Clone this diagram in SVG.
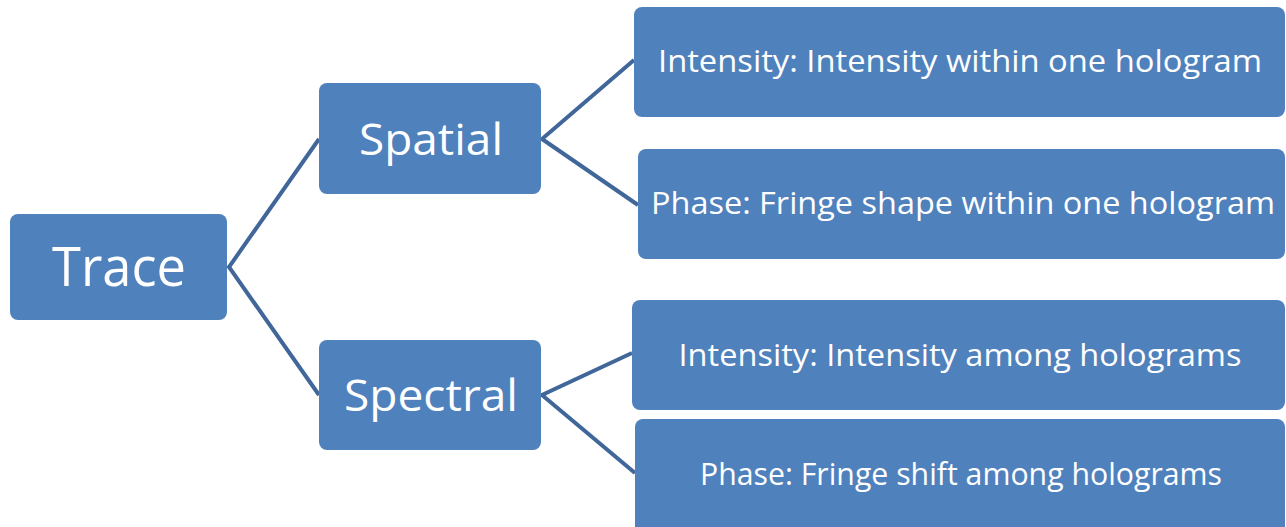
<svg xmlns="http://www.w3.org/2000/svg" width="1286" height="527" viewBox="0 0 1286 527">
<style>
.box{fill:#4f81bd;}
.t{fill:#fff;font-family:"Open Sans","Liberation Sans",sans-serif;text-anchor:middle;}
.conn{stroke:#41679a;stroke-width:4;fill:none;}
</style>
<rect width="1286" height="527" fill="#fff"/>
<g id="connectors">
<polyline class="conn" points="319,139 229,267 319,395"/>
<polyline class="conn" points="634,60 542,139 638,205"/>
<polyline class="conn" points="632,353 542,395 635,473"/>
</g>
<g id="trace"><rect class="box" x="10" y="214" width="217" height="106" rx="8"/><text class="t" x="119" y="286" font-size="54" textLength="134" lengthAdjust="spacingAndGlyphs">Trace</text></g>
<g id="spatial"><rect class="box" x="319" y="83" width="222" height="111" rx="8"/><text class="t" x="431" y="155" font-size="44" textLength="144" lengthAdjust="spacingAndGlyphs">Spatial</text></g>
<g id="spectral"><rect class="box" x="319" y="340" width="222" height="110" rx="8"/><text class="t" x="431" y="411" font-size="44" textLength="174" lengthAdjust="spacingAndGlyphs">Spectral</text></g>
<g id="n1"><rect class="box" x="634" y="7" width="651" height="110" rx="8"/><text class="t" x="960" y="72" font-size="31" textLength="604" lengthAdjust="spacingAndGlyphs">Intensity: Intensity within one hologram</text></g>
<g id="n2"><rect class="box" x="638" y="149" width="647" height="110" rx="8"/><text class="t" x="963" y="214" font-size="31" textLength="624" lengthAdjust="spacingAndGlyphs">Phase: Fringe shape within one hologram</text></g>
<g id="n3"><rect class="box" x="632" y="300" width="653" height="110" rx="8"/><text class="t" x="960" y="366" font-size="31" textLength="563" lengthAdjust="spacingAndGlyphs">Intensity: Intensity among holograms</text></g>
<g id="n4"><rect class="box" x="635" y="419" width="650" height="115" rx="8"/><text class="t" x="961" y="485" font-size="31" textLength="522" lengthAdjust="spacingAndGlyphs">Phase: Fringe shift among holograms</text></g>
</svg>
